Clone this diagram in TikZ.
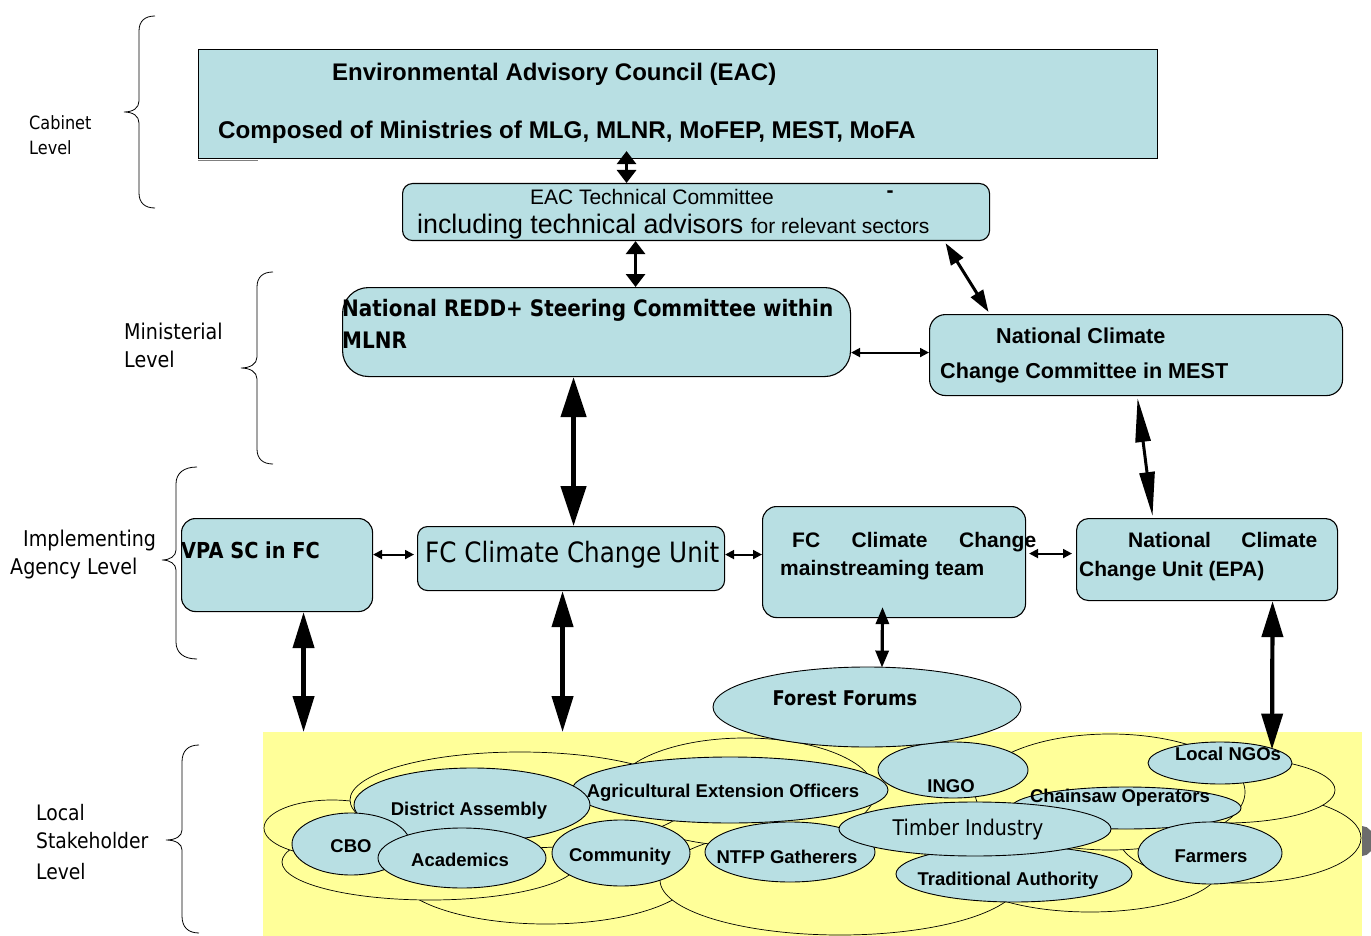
\documentclass[tikz,border=0pt]{standalone}
\usepackage{fontspec}
\setmainfont{Liberation Sans}
\newfontfamily\tah[FakeStretch=0.88]{DejaVu Sans}
\usetikzlibrary{arrows.meta,shapes.geometric}
\definecolor{boxblue}{RGB}{184,223,227}
\definecolor{cloudy}{RGB}{255,255,153}
\newcommand\myfs[1]{\fontsize{#1}{#1}\selectfont}
\begin{document}
\begin{tikzpicture}[x=1pt,y=-1pt,
  box/.style={draw=black, line width=1.1pt, fill=boxblue, rounded corners=10pt, inner sep=0pt, anchor=north west},
  ell/.style={ellipse, draw=black, line width=0.9pt, fill=boxblue, inner sep=0pt},
  cloudline/.style={draw=black, line width=0.7pt, fill=cloudy},
  txt/.style={inner sep=0pt, anchor=mid west, yshift=-6pt},
  ctxt/.style={inner sep=0pt, anchor=mid, yshift=-6pt},
  stk/.style={inner sep=0pt, anchor=mid, yshift=-5pt, font=\myfs{18.5}\bfseries},
  lvl/.style={inner sep=0pt, anchor=mid west, yshift=-6pt, font=\tah\myfs{21.7}},
  bracestyle/.style={draw=black, line width=0.8pt},
  thinarr/.style={line width=1.9pt, {Triangle[length=9pt,width=9pt]}-{Triangle[length=9pt,width=9pt]}},
  midarr/.style={line width=3pt, {Triangle[length=13pt,width=19pt]}-{Triangle[length=13pt,width=19pt]}},
  diagarr/.style={line width=3pt, {Triangle[length=22pt,width=14pt]}-{Triangle[length=22pt,width=14pt]}},
  longarr/.style={line width=3pt, {Triangle[length=44pt,width=15pt]}-{Triangle[length=44pt,width=15pt]}},
  ffarr/.style={line width=3.2pt, {Triangle[length=17pt,width=13pt]}-{Triangle[length=17pt,width=13pt]}},
  bigarr/.style={line width=4.5pt, {Triangle[length=40pt,width=25pt]}-{Triangle[length=40pt,width=25pt]}},
  lowarr/.style={line width=4.2pt, {Triangle[length=36pt,width=21pt]}-{Triangle[length=36pt,width=21pt]}}
]
\useasboundingbox (0,0) rectangle (1371,936);
\fill[white] (0,0) rectangle (1371,936);

% ---------- level braces and labels ----------
\draw[bracestyle] (155,16) .. controls (145,16) and (139,21) .. (139,31) -- (139,101) .. controls (139,108) and (133,112) .. (124,112) .. controls (133,112) and (139,116) .. (139,123) -- (139,193) .. controls (139,203) and (145,208) .. (155,208);
\draw[bracestyle] (273,272) .. controls (263,272) and (257,277) .. (257,287) -- (257,357) .. controls (257,364) and (250,368) .. (241,368) .. controls (250,368) and (257,372) .. (257,379) -- (257,449) .. controls (257,459) and (263,464) .. (273,464);
\draw[bracestyle] (197,467) .. controls (184,467) and (176,473) .. (176,484) -- (176,550) .. controls (176,556) and (170,560) .. (162,560) .. controls (170,560) and (176,564) .. (176,570) -- (176,642) .. controls (176,653) and (184,659) .. (197,659);
\draw[bracestyle] (199,745) .. controls (188,745) and (182,751) .. (182,762) -- (182,830) .. controls (182,836) and (176,840) .. (166,840) .. controls (176,840) and (182,844) .. (182,850) -- (182,916) .. controls (182,927) and (188,933) .. (199,933);

\node[lvl, font=\tah\myfs{18.3}] (lc1) at (29,121) {Cabinet};
\node[lvl, font=\tah\myfs{18.3}] (lc2) at (29,146) {Level};
\node[lvl] (lm1) at (124,331) {Ministerial};
\node[lvl] (lm2) at (124,359) {Level};
\node[lvl] (li1) at (23,538) {Implementing};
\node[lvl] (li2) at (10,566) {Agency Level};
\node[lvl, font=\tah\myfs{21.3}] (ll1) at (36,812) {Local};
\node[lvl, font=\tah\myfs{21.3}] (ll2) at (36,840) {Stakeholder};
\node[lvl, font=\tah\myfs{21.3}] (ll3) at (36,871) {Level};

% ---------- local stakeholder area ----------
\fill[gray!85!black] (1362,841) ellipse [x radius=12, y radius=15];
\node[fill=cloudy, draw=none, inner sep=0pt, anchor=north west, minimum width=1099, minimum height=204] (local) at (263,732) {};

\draw[cloudline] (546,872) ellipse [x radius=150, y radius=52];
\draw[cloudline] (840,880) ellipse [x radius=180, y radius=55];
\draw[cloudline] (1090,868) ellipse [x radius=130, y radius=44];
\draw[cloudline] (1240,838) ellipse [x radius=121, y radius=45];
\draw[cloudline] (1225,790) ellipse [x radius=110, y radius=33];
\draw[cloudline] (1110,792) ellipse [x radius=135, y radius=58];
\draw[cloudline] (745,792) ellipse [x radius=130, y radius=54];
\draw[cloudline] (430,862) ellipse [x radius=148, y radius=38];
\draw[cloudline] (332,828) ellipse [x radius=68, y radius=28];
\draw[cloudline] (520,800) ellipse [x radius=170, y radius=48];

\node[ell, minimum width=316, minimum height=66] (agri) at (730,790) {};
\node[ell, minimum width=150, minimum height=56] (ingo) at (953,770) {};
\node[ell, minimum width=236, minimum height=74] (da) at (472,805) {};
\node[ell, minimum width=118, minimum height=62] (cbo) at (351,844) {};
\node[ell, minimum width=168, minimum height=60] (acad) at (462,858) {};
\node[ell, minimum width=138, minimum height=66] (comm) at (621,853) {};
\node[ell, minimum width=170, minimum height=60] (ntfp) at (790,852) {};
\node[ell, minimum width=230, minimum height=42] (chain) at (1126,808) {};
\node[ell, minimum width=236, minimum height=56] (trad) at (1014,874) {};
\node[ell, minimum width=272, minimum height=54] (timber) at (975,829) {};
\node[ell, minimum width=144, minimum height=62] (farm) at (1210,853) {};
\node[ell, minimum width=144, minimum height=42] (ngo) at (1220,763) {};
\node[ell, minimum width=308, minimum height=80] (ff) at (867,707) {};

\node[stk] (t-agri) at (723,790) {Agricultural Extension Officers};
\node[stk] (t-ingo) at (951,785) {INGO};
\node[stk] (t-da) at (469,808) {District Assembly};
\node[stk] (t-cbo) at (351,845) {CBO};
\node[stk] (t-acad) at (460,859) {Academics};
\node[stk] (t-comm) at (620,854) {Community};
\node[stk] (t-ntfp) at (787,856) {NTFP Gatherers};
\node[stk] (t-chain) at (1120,795) {Chainsaw Operators};
\node[stk] (t-trad) at (1008,878) {Traditional Authority};
\node[ctxt, font=\tah\myfs{21.6}] (t-timber) at (968,827) {Timber Industry};
\node[stk] (t-farm) at (1211,855) {Farmers};
\node[stk] (t-ngo) at (1228,753) {Local NGOs};
\node[ctxt, font=\tah\myfs{20.3}\bfseries] (t-ff) at (845,697) {Forest Forums};

% ---------- boxes ----------
\node[box, rounded corners=0pt, minimum width=959, minimum height=109] (eac) at (198,49) {};
\draw[gray, line width=1.5pt] ([yshift=-1.5pt]eac.south west) -- ([xshift=60pt,yshift=-1.5pt]eac.south west);
\node[box, minimum width=587, minimum height=57] (tc) at (402,183) {};
\node[box, rounded corners=26pt, minimum width=508, minimum height=89] (redd) at (342,287) {};
\node[box, rounded corners=16pt, minimum width=413, minimum height=81] (nccc) at (929,314) {};
\node[box, rounded corners=14pt, minimum width=191, minimum height=93] (vpa) at (181,518) {};
\node[box, minimum width=307, minimum height=64] (fcu) at (417,526) {};
\node[box, rounded corners=14pt, minimum width=263, minimum height=111] (fcm) at (762,506) {};
\node[box, rounded corners=12pt, minimum width=261, minimum height=82] (ncu) at (1076,518) {};

\node[txt, font=\myfs{24}\bfseries] (eac-1) at (332,72) {Environmental Advisory Council (EAC)};
\node[txt, font=\myfs{24.2}\bfseries] (eac-2) at (218,130) {Composed of Ministries of MLG, MLNR, MoFEP, MEST, MoFA};
\node[ctxt, font=\myfs{21}] (tc-1) at (652,196) {EAC Technical Committee};
\node[ctxt, font=\myfs{21}\bfseries] (tc-dash) at (890,189) {-};
\node[txt, font=\myfs{26.8}] (tc-2) at (417,225) {including technical advisors {\myfs{21}for relevant sectors}};
\node[txt, font=\tah\myfs{22.7}\bfseries] (redd-1) at (342,308) {National REDD+ Steering Committee within};
\node[txt, font=\tah\myfs{22.7}\bfseries] (redd-2) at (342,340) {MLNR};
\node[txt, font=\myfs{21.6}\bfseries] (nccc-1) at (996,335) {National Climate};
\node[txt, font=\myfs{21.6}\bfseries] (nccc-2) at (940,370) {Change Committee in MEST};
\node[txt, font=\tah\myfs{22}\bfseries] (vpa-1) at (181,550) {VPA SC in FC};
\node[txt, font=\tah\myfs{28}] (fcu-1) at (425,554) {FC Climate Change Unit};
\node[txt, font=\myfs{21}\bfseries] (fcm-1) at (792,539) {\makebox[244pt][s]{FC Climate Change}};
\node[txt, font=\myfs{21}\bfseries] (fcm-2) at (780,567) {mainstreaming team};
\node[txt, font=\myfs{21}\bfseries] (ncu-1) at (1128,539) {\makebox[189pt][s]{National Climate}};
\node[txt, font=\myfs{21}\bfseries] (ncu-2) at (1079,568) {Change Unit (EPA)};

% ---------- connectors ----------
\coordinate (a1a) at ([xshift=-69.5pt]tc.north);
\coordinate (a1b) at ([xshift=-51.5pt,yshift=8pt]eac.south);
\draw[midarr] (a1a) -- (a1b);
\coordinate (a2a) at ([xshift=-60.5pt]tc.south);
\coordinate (a2b) at ([xshift=39pt]redd.north);
\draw[midarr] (a2a) -- (a2b);
\coordinate (a3a) at ([xshift=249.5pt,yshift=-2pt]tc.south);
\coordinate (a3b) at ([xshift=-147.5pt,yshift=2pt]nccc.north);
\draw[diagarr] (a3a) -- (a3b);
\coordinate (a4a) at ([yshift=2.5pt]nccc.west);
\coordinate (a4b) at ([yshift=-20.5pt]redd.east);
\draw[thinarr] (a4b) -- (a4a);
\coordinate (a5a) at ([xshift=-23pt]redd.south);
\coordinate (a5b) at ([xshift=2.5pt]fcu.north);
\draw[bigarr] (a5a) -- (a5b);
\coordinate (a6a) at ([xshift=1.5pt,yshift=-2pt]nccc.south);
\coordinate (a6b) at ([xshift=-54.5pt,yshift=2pt]ncu.north);
\draw[longarr] (a6a) -- (a6b);
\coordinate (a7a) at ([xshift=-3pt,yshift=4pt]fcu.west);
\coordinate (a7b) at ([yshift=10.5pt]vpa.east);
\draw[thinarr] (a7b) -- (a7a);
\coordinate (a8a) at ([yshift=4pt]fcu.east);
\coordinate (a8b) at ([yshift=7.5pt]fcm.west);
\draw[thinarr] (a8a) -- (a8b);
\coordinate (a9a) at ([xshift=3pt,yshift=8.5pt]fcm.east);
\coordinate (a9b) at ([xshift=-4pt,yshift=6pt]ncu.west);
\draw[thinarr] (a9a) -- (a9b);
\coordinate (a10a) at ([xshift=26.5pt]vpa.south);
\coordinate (a10b) at (a10a |- local.north);
\draw[lowarr] (a10a) -- (a10b);
\coordinate (a11a) at ([xshift=-8.5pt]fcu.south);
\coordinate (a11b) at (a11a |- local.north);
\draw[lowarr] (a11a) -- (a11b);
\coordinate (a12a) at ([xshift=-11.5pt,yshift=11pt]fcm.south);
\coordinate (a12b) at ([xshift=15pt,yshift=-1pt]ff.north);
\draw[ffarr] (a12a) -- (a12b);
\coordinate (a13a) at ([xshift=65.5pt]ncu.south);
\coordinate (a13b) at ([xshift=52pt,yshift=-8pt]ngo.north);
\draw[lowarr] (a13a) -- (a13b);
\end{tikzpicture}
\end{document}
